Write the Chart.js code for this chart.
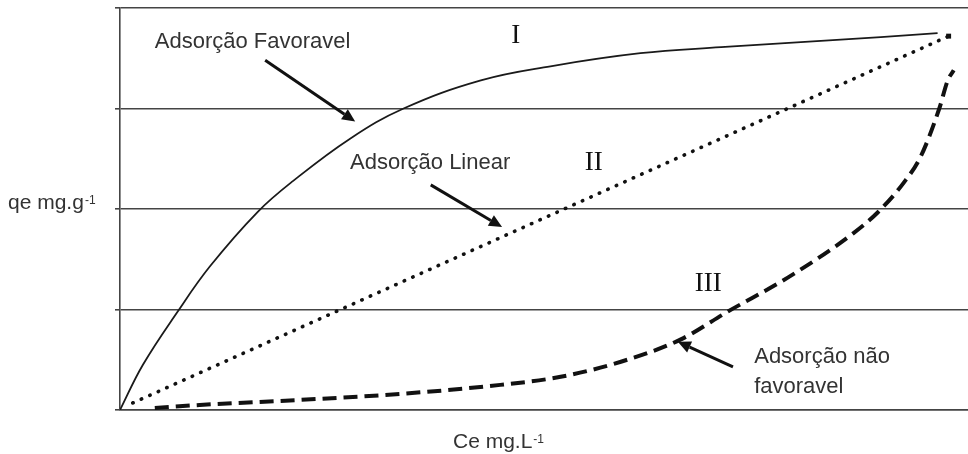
<!DOCTYPE html>
<html>
<head>
<meta charset="utf-8">
<script src="https://cdn.jsdelivr.net/npm/chart.js"></script>
<style>
  html, body { margin: 0; padding: 0; background: #fff; overflow: hidden; }
  #wrap { width: 973px; height: 454px; }
</style>
</head>
<body>
<div id="wrap"><canvas id="chart"></canvas></div>
<script>
/* ── Data (Ce on x, qe on y) ── */
// I – favourable adsorption (solid)
const favX = [0, 0.27, 0.68, 1.06, 1.62, 2.04, 2.71, 3.34, 4.25, 5.07, 6.13, 7.08, 8.02, 8.96, 9.63];
const favY = [0, 0.45, 0.98, 1.43, 1.97, 2.28, 2.70, 3.00, 3.28, 3.42, 3.55, 3.61, 3.66, 3.71, 3.75];

// II – linear adsorption (dotted)
const linX = [0.15, 9.76];
const linY = [0.07, 3.72];

// III – unfavourable adsorption (dashed)
const nonX = [0.41, 0.94, 2.12, 3.30, 4.48, 5.19, 5.90, 6.60, 7.16, 7.87, 8.64, 8.93, 9.23, 9.43, 9.65, 9.75, 9.82];
const nonY = [0.02, 0.05, 0.10, 0.16, 0.25, 0.33, 0.48, 0.70, 0.98, 1.32, 1.76, 1.97, 2.26, 2.52, 3.00, 3.28, 3.38];

// axis ranges / ticks
const xRange = [0, 10];
const yTicks = [0, 1, 2, 3, 4];

// text notes, placed in data units
const notes = [
  { text: 'Adsorção Favoravel', x: 0.41, y: 3.66, serif: false },
  { text: 'I',                  x: 4.66, y: 3.72, serif: true },
  { text: 'Adsorção Linear',    x: 2.71, y: 2.46, serif: false },
  { text: 'II',                 x: 5.58, y: 2.46, serif: true },
  { text: 'III',                x: 6.93, y: 1.25, serif: true },
  { text: 'Adsorção não',       x: 7.47, y: 0.53, serif: false },
  { text: 'favoravel',          x: 7.47, y: 0.23, serif: false }
];

// arrows: tail -> head, data units
const arrows = [
  { x0: 1.71, y0: 3.48, x1: 2.77, y1: 2.87 },
  { x0: 3.66, y0: 2.24, x1: 4.50, y1: 1.82 },
  { x0: 7.22, y0: 0.43, x1: 6.57, y1: 0.68 }
];

const toPts = (xs, ys) => xs.map((x, i) => ({ x, y: ys[i] }));

/* ── Notes plugin: labels, arrows, axis titles ── */
const notesPlugin = {
  id: 'notes',
  afterDatasetsDraw(chart) {
    const { ctx, scales: { x, y } } = chart;
    ctx.save();

    // arrows
    ctx.strokeStyle = '#111';
    ctx.fillStyle = '#111';
    ctx.lineWidth = 3;
    arrows.forEach(a => {
      const px0 = x.getPixelForValue(a.x0), py0 = y.getPixelForValue(a.y0);
      const px1 = x.getPixelForValue(a.x1), py1 = y.getPixelForValue(a.y1);
      const ang = Math.atan2(py1 - py0, px1 - px0);
      const len = 13, half = 6;
      const bx = px1 - len * Math.cos(ang), by = py1 - len * Math.sin(ang);
      ctx.beginPath();
      ctx.moveTo(px0, py0);
      ctx.lineTo(bx, by);
      ctx.stroke();
      ctx.beginPath();
      ctx.moveTo(px1, py1);
      ctx.lineTo(bx + half * Math.sin(ang), by - half * Math.cos(ang));
      ctx.lineTo(bx - half * Math.sin(ang), by + half * Math.cos(ang));
      ctx.closePath();
      ctx.fill();
    });

    // labels
    ctx.textBaseline = 'middle';
    notes.forEach(n => {
      ctx.font = n.serif ? '27px "Liberation Serif", "Times New Roman", serif'
                         : '22px "Liberation Sans", Arial, sans-serif';
      ctx.fillStyle = n.serif ? '#111' : '#333';
      ctx.textAlign = n.serif ? 'center' : 'left';
      ctx.fillText(n.text, x.getPixelForValue(n.x), y.getPixelForValue(n.y));
    });

    // axis titles with superscript -1
    const title = (main, px, py) => {
      ctx.textAlign = 'left';
      ctx.textBaseline = 'alphabetic';
      ctx.fillStyle = '#333';
      ctx.font = '21px "Liberation Sans", Arial, sans-serif';
      ctx.fillText(main, px, py);
      const w = ctx.measureText(main).width;
      ctx.font = '12px "Liberation Sans", Arial, sans-serif';
      ctx.fillText('-1', px + w + 1, py - 5);
    };
    title('qe mg.g', 8, 209);
    title('Ce mg.L', 453, 448);

    ctx.restore();
  }
};

new Chart(document.getElementById('chart'), {
  type: 'scatter',
  data: {
    datasets: [
      {
        label: 'Adsorção Favoravel',
        data: toPts(favX, favY),
        showLine: true,
        borderColor: '#1a1a1a',
        borderWidth: 1.8,
        tension: 0.4,
        pointRadius: 0
      },
      {
        label: 'Adsorção Linear',
        data: toPts(linX, linY),
        showLine: true,
        borderColor: '#111',
        borderWidth: 3.6,
        borderDash: [0.5, 8.8],
        borderCapStyle: 'round',
        pointStyle: 'rect',
        pointRadius: c => c.dataIndex === linX.length - 1 ? 3.5 : 0,
        pointBackgroundColor: '#111',
        pointBorderWidth: 0
      },
      {
        label: 'Adsorção não favoravel',
        data: toPts(nonX, nonY),
        showLine: true,
        borderColor: '#111',
        borderWidth: 4,
        borderDash: [14, 7],
        cubicInterpolationMode: 'monotone',
        pointRadius: 0
      }
    ]
  },
  options: {
    responsive: true,
    maintainAspectRatio: false,
    animation: false,
    layout: { padding: { top: 8, right: 0, bottom: 0, left: 0 } },
    plugins: {
      legend: { display: false },
      tooltip: { enabled: false }
    },
    scales: {
      x: {
        type: 'linear',
        min: xRange[0],
        max: xRange[1],
        ticks: { display: false },
        grid: { display: false },
        border: { display: true, color: '#444', width: 1.6 },
        afterFit(s) { s.height = 44; }
      },
      y: {
        type: 'linear',
        min: yTicks[0],
        max: yTicks[yTicks.length - 1],
        afterBuildTicks(s) { s.ticks = yTicks.map(v => ({ value: v })); },
        ticks: { display: false },
        grid: { color: '#444', lineWidth: 1.6, drawTicks: true, tickLength: 5 },
        border: { display: true, color: '#444', width: 1.6 },
        afterFit(s) { s.width = 120; }
      }
    }
  },
  plugins: [notesPlugin]
});
</script>
</body>
</html>
